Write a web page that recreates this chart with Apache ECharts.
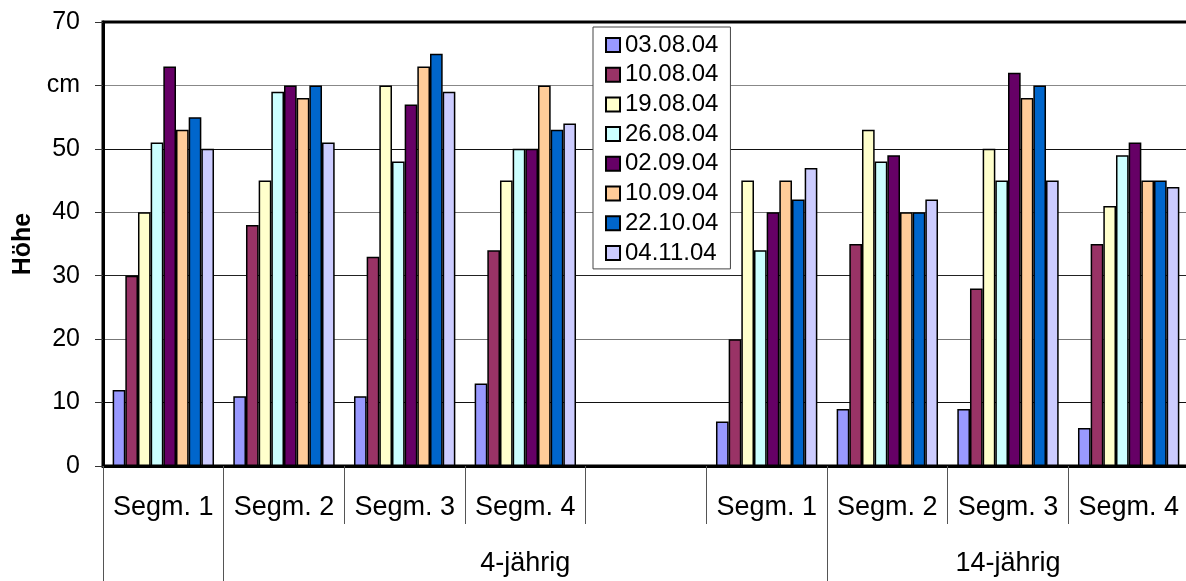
<!DOCTYPE html>
<html>
<head>
<meta charset="utf-8">
<script src="https://cdn.jsdelivr.net/npm/echarts@6/dist/echarts.min.js"></script>
<style>
  html, body { margin: 0; padding: 0; background: #fff; }
  #chart { width: 1186px; height: 581px; }
</style>
</head>
<body>
<div id="chart"></div>
<script>
// Segment categories (empty slot separates the two age groups)
const categories = ['Segm. 1', 'Segm. 2', 'Segm. 3', 'Segm. 4', '', 'Segm. 1', 'Segm. 2', 'Segm. 3', 'Segm. 4'];

// Age groups on the second label row: name, first and last category boundary
const groupNames = ['4-jährig', '14-jährig'];
const groupStarts = [1, 6];
const groupEnds = [6, 9];
const groupBoundaries = [0, 1, 6];

// Measurement dates (series) and bar colours
const dates = ['03.08.04', '10.08.04', '19.08.04', '26.08.04', '02.09.04', '10.09.04', '22.10.04', '04.11.04'];
const colors = ['#9999FF', '#993366', '#FFFFCC', '#CCFFFF', '#660066', '#FFCC99', '#0066CC', '#CCCCFF'];

// Height in cm per date, one value per category
const h_030804 = [12, 11, 11, 13, null, 7, 9, 9, 6];
const h_100804 = [30, 38, 33, 34, null, 20, 35, 28, 35];
const h_190804 = [40, 45, 60, 45, null, 45, 53, 50, 41];
const h_260804 = [51, 59, 48, 50, null, 34, 48, 45, 49];
const h_020904 = [63, 60, 57, 50, null, 40, 49, 62, 51];
const h_100904 = [53, 58, 63, 60, null, 45, 40, 58, 45];
const h_221004 = [55, 60, 65, 53, null, 42, 40, 60, 45];
const h_041104 = [50, 51, 59, 54, null, 47, 42, 45, 44];
const seriesValues = [h_030804, h_100804, h_190804, h_260804, h_020904, h_100904, h_221004, h_041104];

// Y axis tick labels (unit shown in place of 60)
const yTickValues = [0, 10, 20, 30, 40, 50, 60, 70];
const yTickLabels = ['0', '10', '20', '30', '40', '50', 'cm', '70'];
const yAxisName = 'Höhe';

const FONT = 'Liberation Sans, Arial, Helvetica, sans-serif';

const chart = echarts.init(document.getElementById('chart'), null, { renderer: 'canvas' });

const series = dates.map((d, i) => ({
  name: d,
  type: 'bar',
  xAxisIndex: 0,
  data: seriesValues[i],
  barGap: '0%',
  barCategoryGap: '16%',
  itemStyle: { color: colors[i], borderColor: '#000', borderWidth: 1.5 },
  emphasis: { disabled: true },
  animation: false
}));

const groupCenters = groupNames.map((g, i) => (groupStarts[i] + groupEnds[i]) / 2);

chart.setOption({
  animation: false,
  textStyle: { fontFamily: FONT },
  grid: {
    left: 103, top: 22, right: -3, bottom: 115,
    outerBoundsMode: 'none',
    containLabel: false,
    show: true, borderColor: '#000', borderWidth: 3, backgroundColor: 'transparent'
  },
  legend: {
    orient: 'vertical',
    left: 593, top: 27,
    padding: [6, 12, 4, 12],
    backgroundColor: '#fff',
    borderColor: '#444', borderWidth: 1,
    itemWidth: 14, itemHeight: 14, itemGap: 5.7,
    icon: 'rect',
    data: dates,
    textStyle: { fontSize: 24, lineHeight: 22, color: '#000', fontFamily: FONT }
  },
  xAxis: [
    {
      type: 'category',
      data: categories,
      position: 'bottom',
      axisLine: { show: true, lineStyle: { color: '#000', width: 3 } },
      axisTick: { show: true, interval: 0, length: 58, lineStyle: { color: '#555', width: 1 } },
      axisLabel: { interval: 0, margin: 28, fontSize: 27, color: '#000', fontFamily: FONT },
      splitLine: { show: false }
    },
    {
      type: 'value',
      min: 0, max: 9,
      position: 'bottom',
      axisLine: { show: false },
      axisTick: { show: true, length: 115, customValues: groupBoundaries, lineStyle: { color: '#555', width: 1 } },
      axisLabel: {
        show: true, margin: 84, fontSize: 27, color: '#000', fontFamily: FONT,
        customValues: groupCenters,
        formatter: (v) => {
          const k = groupCenters.indexOf(v);
          return k >= 0 ? groupNames[k] : '';
        }
      },
      splitLine: { show: false }
    }
  ],
  yAxis: {
    type: 'value',
    min: 0, max: 70, interval: 10,
    name: yAxisName,
    nameLocation: 'middle',
    nameRotate: 90,
    nameGap: 66,
    nameTextStyle: { fontSize: 25, fontWeight: 'bold', color: '#000', fontFamily: FONT },
    axisLine: { show: true, lineStyle: { color: '#000', width: 3 } },
    axisTick: { show: true, length: 8, lineStyle: { color: '#333', width: 1 } },
    axisLabel: {
      margin: 23, fontSize: 25, color: '#000', fontFamily: FONT,
      formatter: (v) => {
        const k = yTickValues.indexOf(v);
        return k >= 0 ? yTickLabels[k] : String(v);
      }
    },
    splitLine: {
      show: true,
      lineStyle: { width: 1, color: ['#000', '#111', '#777', '#222', '#777', '#111', '#888', '#000'] }
    }
  },
  series: series
});
</script>
</body>
</html>
